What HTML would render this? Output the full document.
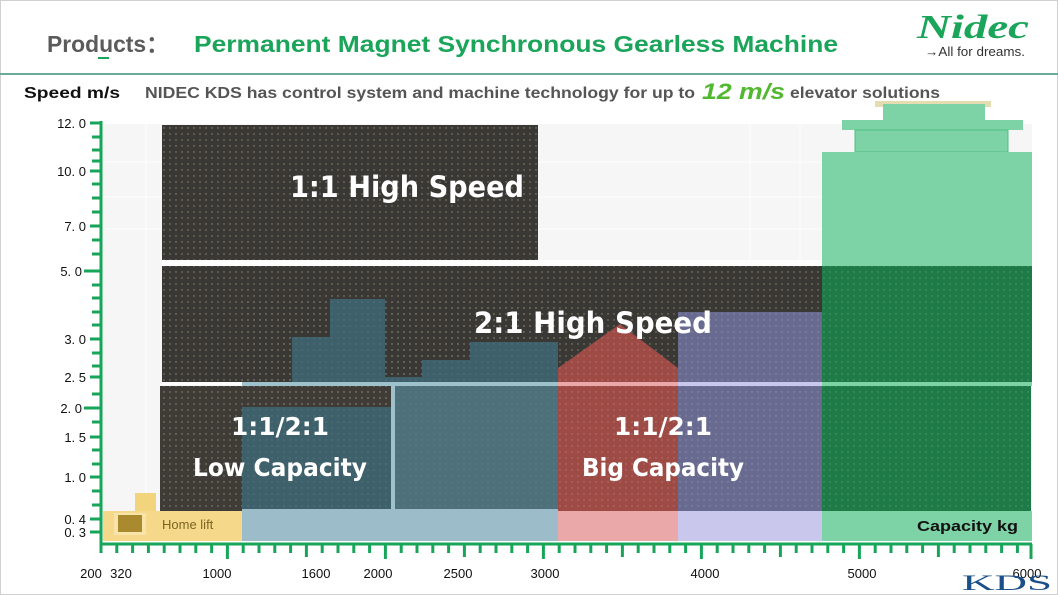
<!DOCTYPE html>
<html><head><meta charset="utf-8">
<style>
html,body{margin:0;padding:0;background:#fff;}
svg{display:block;font-family:"Liberation Sans",sans-serif;}
</style></head>
<body>
<svg width="1058" height="595" viewBox="0 0 1058 595" xmlns="http://www.w3.org/2000/svg">
<defs>
<pattern id="dots" width="6" height="6" patternUnits="userSpaceOnUse">
<circle cx="2" cy="2" r="0.7" fill="#d8d2a0" fill-opacity="0.55"/>
</pattern>
<pattern id="dots2" width="6" height="6" patternUnits="userSpaceOnUse">
<circle cx="2" cy="2" r="0.7" fill="#ffffff" fill-opacity="0.25"/>
</pattern>
</defs>
<rect x="0.5" y="0.5" width="1057" height="594" fill="#fff" stroke="#d0d0d0"/>
<!-- header -->
<text x="47" y="52" font-size="23" font-weight="bold" fill="#5b5b5b" textLength="122" lengthAdjust="spacingAndGlyphs">Products：</text>
<rect x="98" y="57" width="11" height="2" fill="#1aa55a"/>
<text x="194" y="52" font-size="23" font-weight="bold" fill="#1aa55a" textLength="644" lengthAdjust="spacingAndGlyphs">Permanent Magnet Synchronous Gearless Machine</text>
<text x="917" y="38" font-size="34" font-weight="bold" font-style="italic" fill="#1aa55a" font-family="Liberation Serif,serif" textLength="112" lengthAdjust="spacingAndGlyphs">Nidec</text>
<text x="925" y="56" font-size="13" fill="#333" textLength="100" lengthAdjust="spacingAndGlyphs">→All for dreams.</text>
<rect x="0" y="73" width="1058" height="2" fill="#6aaa9a"/>
<text x="24" y="98" font-size="16" font-weight="bold" fill="#111" textLength="96" lengthAdjust="spacingAndGlyphs">Speed m/s</text>
<text x="145" y="98" font-size="16" font-weight="bold" fill="#555" textLength="550" lengthAdjust="spacingAndGlyphs">NIDEC KDS has control system and machine technology for up to</text>
<text x="702" y="99" font-size="22" font-weight="bold" font-style="italic" fill="#52b830" textLength="83" lengthAdjust="spacingAndGlyphs">12 m/s</text>
<text x="790" y="98" font-size="16" font-weight="bold" fill="#555" textLength="150" lengthAdjust="spacingAndGlyphs">elevator solutions</text>

<!-- chart bg -->
<rect x="102" y="124" width="930" height="417" fill="#f6f6f6"/>
<g stroke="#ffffff" stroke-width="1">
<line x1="102" y1="162" x2="1032" y2="162"/><line x1="102" y1="197" x2="1032" y2="197"/><line x1="102" y1="229" x2="1032" y2="229"/>
<line x1="146" y1="124" x2="146" y2="541"/><line x1="750" y1="124" x2="750" y2="541"/><line x1="800" y1="124" x2="800" y2="541"/>
</g>

<!-- dark regions -->
<rect x="162" y="125" width="376" height="135" fill="#3a3835"/>
<rect x="162" y="125" width="376" height="135" fill="url(#dots)"/>
<rect x="162" y="266" width="660" height="116" fill="#3a3835"/>
<rect x="162" y="266" width="660" height="116" fill="url(#dots)"/>
<rect x="160" y="386" width="232" height="125" fill="#3f3c38"/>
<rect x="160" y="386" width="232" height="125" fill="url(#dots)"/>

<!-- green tower -->
<rect x="875" y="101" width="116" height="6" fill="#e3ddb0"/>
<rect x="883" y="104" width="102" height="16" fill="#7dd3a5"/>
<rect x="842" y="120" width="181" height="10" fill="#7dd3a5"/>
<rect x="855" y="130" width="153" height="22" fill="#7dd3a5" stroke="#4fbf82" stroke-width="1"/>
<rect x="822" y="152" width="210" height="114" fill="#7dd3a5"/>
<rect x="822" y="266" width="210" height="116" fill="#1e7a46"/>
<rect x="822" y="386" width="209" height="125" fill="#1e7a46"/>
<rect x="822" y="266" width="210" height="245" fill="url(#dots2)"/>
<rect x="822" y="382" width="210" height="4" fill="#7dd3a5"/>
<rect x="822" y="511" width="210" height="30" fill="#7dd3a5"/>

<!-- purple -->
<rect x="678" y="312" width="144" height="199" fill="#686a90"/>
<rect x="678" y="312" width="144" height="199" fill="url(#dots2)"/>
<rect x="678" y="382" width="144" height="4" fill="#c9c8ec"/>
<rect x="678" y="511" width="144" height="30" fill="#c9c8ec"/>

<!-- red -->
<polygon points="558,368 620,324 678,368 678,511 558,511" fill="#9e4a45"/>
<polygon points="558,368 620,324 678,368 678,511 558,511" fill="url(#dots2)"/>
<rect x="558" y="382" width="120" height="4" fill="#eba8a8"/>
<rect x="558" y="511" width="120" height="30" fill="#eba8a8"/>

<!-- teal -->
<g fill="#3e6470" fill-opacity="0.92">
<rect x="242" y="407" width="150" height="104"/>
<rect x="292" y="337" width="38" height="45"/>
<rect x="330" y="299" width="55" height="83"/>
<rect x="385" y="377" width="7" height="5"/>
<rect x="422" y="360" width="48" height="22"/>
<rect x="470" y="342" width="88" height="40"/>
<rect x="392" y="377" width="30" height="5"/>
<rect x="395" y="386" width="163" height="123"/>
</g>
<rect x="242" y="299" width="316" height="212" fill="url(#dots2)" opacity="0.4"/>
<rect x="242" y="382" width="316" height="4" fill="#9ec2cc"/>
<rect x="160" y="382" width="82" height="3" fill="#ffffff"/>
<rect x="391" y="382" width="4" height="129" fill="#9ec2cc"/>
<rect x="242" y="509" width="316" height="32" fill="#9bbcc8"/>
<rect x="162" y="260" width="660" height="6" fill="#ffffff" opacity="0.9"/>

<!-- home lift -->
<rect x="135" y="493" width="21" height="18" fill="#f2d47c"/>
<rect x="103" y="511" width="139" height="30" fill="#f5d88a"/>
<rect x="114" y="513" width="32" height="22" fill="#f8e4a8"/>
<rect x="118" y="515" width="24" height="17" fill="#a98a2e"/>
<text x="162" y="529" font-size="13" fill="#7a6620">Home lift</text>

<!-- labels -->
<g fill="#fff" font-weight="bold" font-family="DejaVu Sans,sans-serif" text-anchor="middle">
<text x="407" y="197" font-size="29" textLength="234" lengthAdjust="spacingAndGlyphs">1:1 High Speed</text>
<text x="593" y="333" font-size="29" textLength="238" lengthAdjust="spacingAndGlyphs">2:1 High Speed</text>
<text x="280" y="435" font-size="25" textLength="98" lengthAdjust="spacingAndGlyphs">1:1/2:1</text>
<text x="280" y="476" font-size="25" textLength="174" lengthAdjust="spacingAndGlyphs">Low Capacity</text>
<text x="663" y="435" font-size="25" textLength="98" lengthAdjust="spacingAndGlyphs">1:1/2:1</text>
<text x="663" y="476" font-size="25" textLength="162" lengthAdjust="spacingAndGlyphs">Big Capacity</text>
</g>
<text x="917" y="531" font-size="15" font-weight="bold" fill="#111" textLength="101" lengthAdjust="spacingAndGlyphs">Capacity kg</text>

<!-- axes -->
<g stroke="#17a55a" stroke-width="3" fill="none">
<line x1="101" y1="121" x2="101" y2="545"/>
<line x1="100" y1="544" x2="1032" y2="544"/>
</g>
<g stroke="#17a55a" stroke-width="3">
<line x1="90" y1="123" x2="101" y2="123"/><line x1="90" y1="171" x2="101" y2="171"/><line x1="90" y1="226" x2="101" y2="226"/><line x1="84" y1="271" x2="101" y2="271"/><line x1="90" y1="339" x2="101" y2="339"/><line x1="90" y1="377" x2="101" y2="377"/><line x1="84" y1="408" x2="101" y2="408"/><line x1="90" y1="437" x2="101" y2="437"/><line x1="90" y1="477" x2="101" y2="477"/><line x1="90" y1="519" x2="101" y2="519"/><line x1="90" y1="532" x2="101" y2="532"/>
<line x1="92" y1="137" x2="101" y2="137"/><line x1="92" y1="150" x2="101" y2="150"/><line x1="92" y1="161" x2="101" y2="161"/><line x1="92" y1="184" x2="101" y2="184"/><line x1="92" y1="198" x2="101" y2="198"/><line x1="92" y1="212" x2="101" y2="212"/><line x1="92" y1="240" x2="101" y2="240"/><line x1="92" y1="254" x2="101" y2="254"/><line x1="92" y1="285" x2="101" y2="285"/><line x1="92" y1="298" x2="101" y2="298"/><line x1="92" y1="312" x2="101" y2="312"/><line x1="92" y1="325" x2="101" y2="325"/><line x1="92" y1="353" x2="101" y2="353"/><line x1="92" y1="366" x2="101" y2="366"/><line x1="92" y1="394" x2="101" y2="394"/><line x1="92" y1="422" x2="101" y2="422"/><line x1="92" y1="450" x2="101" y2="450"/><line x1="92" y1="464" x2="101" y2="464"/><line x1="92" y1="491" x2="101" y2="491"/><line x1="92" y1="505" x2="101" y2="505"/>
</g>
<path stroke="#17a55a" stroke-width="3" fill="none" d="M101 544v9M116.8 544v9M132.6 544v9M148.4 544v9M164.2 544v9M180 544v9M195.8 544v9M211.6 544v9M227.4 544v15M243.2 544v9M259 544v9M274.8 544v9M290.6 544v9M306.4 544v13M322.2 544v9M338 544v9M353.8 544v9M369.6 544v9M385.4 544v15M401.2 544v9M417 544v9M432.8 544v9M448.6 544v9M464.4 544v13M480.2 544v9M496 544v9M511.8 544v9M527.6 544v9M543.4 544v15M559.2 544v9M575 544v9M590.8 544v9M606.6 544v9M622.4 544v13M638.2 544v9M654 544v9M669.8 544v9M685.6 544v9M701.4 544v15M717.2 544v9M733 544v9M748.8 544v9M764.6 544v9M780.4 544v13M796.2 544v9M812 544v9M827.8 544v9M843.6 544v9M859.4 544v15M875.2 544v9M891 544v9M906.8 544v9M922.6 544v9M938.4 544v13M954.2 544v9M970 544v9M985.8 544v9M1001.6 544v9M1017.4 544v9M1031 544v15"/>
<g font-size="13" fill="#111" text-anchor="end">
<text x="86" y="128">12. 0</text><text x="86" y="176">10. 0</text><text x="86" y="231">7. 0</text><text x="82" y="276">5. 0</text><text x="86" y="344">3. 0</text><text x="86" y="382">2. 5</text><text x="82" y="413">2. 0</text><text x="86" y="442">1. 5</text><text x="86" y="482">1. 0</text><text x="86" y="524">0. 4</text><text x="86" y="537">0. 3</text>
</g>
<g font-size="13" fill="#111" text-anchor="middle">
<text x="91" y="578">200</text><text x="121" y="578">320</text><text x="217" y="578">1000</text><text x="316" y="578">1600</text><text x="378" y="578">2000</text><text x="458" y="578">2500</text><text x="545" y="578">3000</text><text x="705" y="578">4000</text><text x="862" y="578">5000</text><text x="1027" y="578">6000</text>
</g>
<text x="962" y="590" font-size="22" fill="#1a4f8a" font-family="Liberation Serif,serif" textLength="90" lengthAdjust="spacingAndGlyphs">KDS</text>
</svg>
</body></html>
